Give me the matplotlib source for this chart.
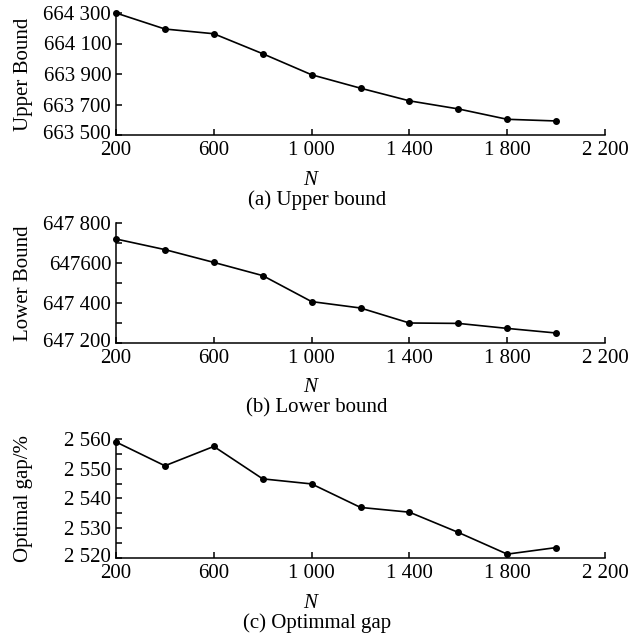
import matplotlib
matplotlib.use("Agg")
import matplotlib.pyplot as plt
from matplotlib.ticker import FixedLocator, FixedFormatter, MultipleLocator
from matplotlib.transforms import ScaledTranslation

plt.rcParams['font.family'] = ['Liberation Serif', 'DejaVu Serif']
plt.rcParams['mathtext.fontset'] = 'custom'
plt.rcParams['mathtext.it'] = 'Liberation Serif:italic'

# data
N = [200, 400, 600, 800, 1000, 1200, 1400, 1600, 1800, 2000]
upper_bound = [664300, 664195, 664164, 664033, 663895, 663807, 663724, 663671, 663603, 663592]
lower_bound = [647720, 647667, 647603, 647537, 647407, 647375, 647300, 647298, 647273, 647250]
optimal_gap = [2559.0, 2551.0, 2557.5, 2546.6, 2544.9, 2537.0, 2535.4, 2528.6, 2521.3, 2523.5]

x_ticks = [200, 600, 1000, 1400, 1800, 2200]
x_labels = ["200", "600", "1 000", "1 400", "1 800", "2 200"]

ub_ticks = [663500, 663700, 663900, 664100, 664300]
ub_labels = ["663 500", "663 700", "663 900", "664 100", "664 300"]
lb_ticks = [647200, 647400, 647600, 647800]
lb_labels = ["647 200", "647 400", "647600", "647 800"]
gap_ticks = [2520, 2530, 2540, 2550, 2560]
gap_labels = ["2 520", "2 530", "2 540", "2 550", "2 560"]

FS = 15
W, H = 629, 639

fig = plt.figure(figsize=(W / 100, H / 100), dpi=100)


def make_axes(top, bottom):
    left, right = 116, 605
    return fig.add_axes([left / W, 1 - bottom / H, (right - left) / W, (bottom - top) / H])


def style(ax, y, yticks, ylabels, ylim, ylabel, minor=None):
    ax.plot(N, y, color='black', lw=1.2, marker='o', ms=4, clip_on=False, zorder=3)
    ax.set_xlim(200, 2200)
    ax.set_ylim(*ylim)
    ax.xaxis.set_major_locator(FixedLocator(x_ticks))
    ax.xaxis.set_major_formatter(FixedFormatter(x_labels))
    ax.yaxis.set_major_locator(FixedLocator(yticks))
    ax.yaxis.set_major_formatter(FixedFormatter(ylabels))
    if minor:
        ax.yaxis.set_minor_locator(MultipleLocator(minor))
    for s in ['top', 'right']:
        ax.spines[s].set_visible(False)
    for s in ['left', 'bottom']:
        ax.spines[s].set_linewidth(1.1)
    ax.tick_params(which='both', direction='in', length=4, width=1.1,
                   labelsize=FS)
    ax.tick_params(axis='y', pad=3.5)
    ax.tick_params(axis='x', pad=4.5)
    ax.set_ylabel(ylabel, fontsize=FS)
    ax.yaxis.set_label_coords(-0.17, 0.5)


ax1 = make_axes(13, 135)
style(ax1, upper_bound, ub_ticks, ub_labels, (663500, 664300), "Upper Bound")

ax2 = make_axes(223, 343)
style(ax2, lower_bound, lb_ticks, lb_labels, (647200, 647800), "Lower Bound", minor=100)

ax3 = make_axes(439, 558)
style(ax3, optimal_gap, gap_ticks, gap_labels, (2520, 2560), "Optimal gap/%", minor=5)

captions = ["(a) Upper bound", "(b) Lower bound", "(c) Optimmal gap"]
for bottom, cap in zip([135, 343, 558], captions):
    fig.text(312 / W, 1 - (bottom + 45) / H, "$N$", ha='center', va='center', fontsize=FS)
    fig.text(317 / W, 1 - (bottom + 65) / H, cap, ha='center', va='center', fontsize=FS)

# nudge the lowest y label up a little so it clears the "200" below it
fig.canvas.draw()
for ax in [ax1, ax2, ax3]:
    lab = ax.yaxis.get_major_ticks()[0].label1
    lab.set_transform(lab.get_transform() + ScaledTranslation(0, 3 / 100, fig.dpi_scale_trans))

fig.savefig("out.png", dpi=100)
